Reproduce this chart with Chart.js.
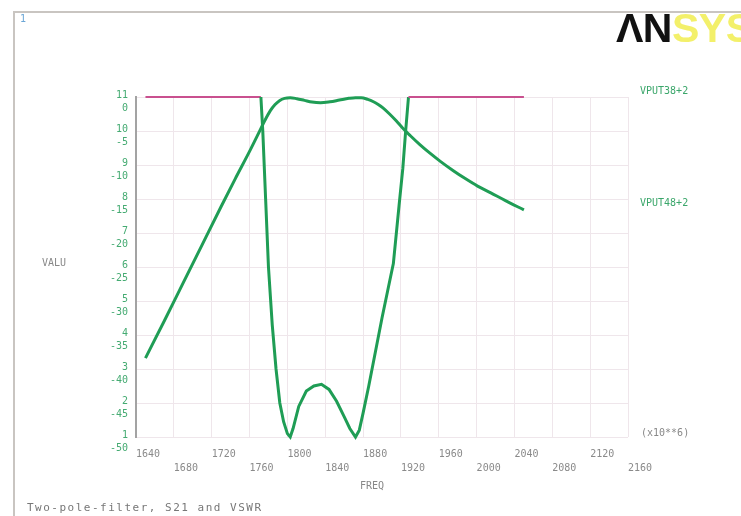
<!DOCTYPE html>
<html>
<head>
<meta charset="utf-8">
<script src="https://cdn.jsdelivr.net/npm/chart.js@4"></script>
<style>
  html, body { margin: 0; padding: 0; background: #ffffff; }
  #wrap { position: relative; width: 741px; height: 516px; overflow: hidden; background: #fff; }
  #c { position: absolute; left: 0; top: 0; }
  .t { position: absolute; font-family: "DejaVu Sans Mono", monospace; white-space: nowrap; }
  #frameTop { position: absolute; left: 13px; top: 11px; width: 728px; height: 2px; background: #c9c5c1; }
  #frameLeft { position: absolute; left: 13px; top: 11px; width: 2px; height: 505px; background: #c9c5c1; }
  #logo { position: absolute; left: 616px; top: 6px; font-family: "Liberation Sans", Arial, sans-serif; font-weight: bold; font-size: 41px; line-height: 44px; letter-spacing: -0.5px; }
</style>
</head>
<body>
<div id="wrap">
  <canvas id="c" width="741" height="516"></canvas>
  <div id="frameTop"></div>
  <div id="frameLeft"></div>
  <div class="t" style="left:20px; top:13px; font-size:10px; color:#6aa6d6;">1</div>
  <div id="logo"><span style="color:#111;">ΛN</span><span style="color:#f3f06a;">SYS</span></div>
  <div class="t" style="left:640px; top:85px; font-size:10px; color:#3aa66a;">VPUT38+2</div>
  <div class="t" style="left:640px; top:197px; font-size:10px; color:#3aa66a;">VPUT48+2</div>
  <div class="t" style="left:641px; top:427px; font-size:10px; color:#888;">(x10**6)</div>
  <div class="t" style="left:42px; top:257px; font-size:10px; color:#888;">VALU</div>
  <div class="t" style="left:360px; top:480px; font-size:10px; color:#888;">FREQ</div>
  <div class="t" style="left:27px; top:501px; font-size:11px; letter-spacing:1.5px; color:#777;">Two-pole-filter, S21 and VSWR</div>
</div>
<script>
// ---- data (frequency in MHz) ----
const vswrFreq = [1650, 1700, 1750, 1772, 1774, 1777, 1780, 1784, 1788, 1792, 1796, 1800, 1803,
                  1806, 1812, 1820, 1828, 1836, 1844, 1852, 1860, 1866, 1872,
                  1876, 1880, 1886, 1893, 1900, 1906, 1912, 1918, 1922, 1925, 1928, 1950, 2000, 2050];
const vswrValue = [11, 11, 11, 11, 10, 8, 6, 4.3, 3, 2, 1.45, 1.1, 1.0,
                   1.25, 1.9, 2.35, 2.5, 2.55, 2.4, 2.05, 1.6, 1.25, 1.0,
                   1.2, 1.7, 2.5, 3.5, 4.5, 5.3, 6.1, 7.8, 8.9, 10, 11, 11, 11, 11];

const s21Freq = [1650, 1670, 1690, 1710, 1730, 1745, 1760, 1770, 1776, 1782, 1787, 1792, 1797, 1803,
                 1810, 1818, 1826, 1835, 1845, 1855, 1865, 1872, 1878, 1885, 1891, 1896, 1901,
                 1908, 1915, 1922, 1930, 1940, 1951, 1962, 1975, 1988, 2001, 2015, 2030, 2050];
const s21Value = [-38.4, -32.9, -27.3, -21.7, -16.1, -12.0, -8.0, -5.2, -3.5, -2.0, -1.1, -0.5, -0.2, -0.1,
                  -0.25, -0.5, -0.75, -0.85, -0.7, -0.45, -0.2, -0.1, -0.1, -0.35, -0.7, -1.1, -1.6,
                  -2.5, -3.5, -4.6, -5.7, -7.0, -8.3, -9.5, -10.8, -12.0, -13.1, -14.1, -15.2, -16.6];

const xTicks = [1640, 1680, 1720, 1760, 1800, 1840, 1880, 1920, 1960, 2000, 2040, 2080, 2120, 2160];
const vswrTicks = [1, 2, 3, 4, 5, 6, 7, 8, 9, 10, 11];
const dbTicks = [-50, -45, -40, -35, -30, -25, -20, -15, -10, -5, 0];

const GREEN = '#1f9d55';
const MAGENTA = '#c9508f';

const vswrPts = vswrFreq.map((f, i) => ({ x: f, y: vswrValue[i] }));
const s21Pts = s21Freq.map((f, i) => ({ x: f, y: s21Value[i] }));

new Chart(document.getElementById('c'), {
  type: 'line',
  data: {
    datasets: [
      {
        label: 'VSWR',
        data: vswrPts,
        yAxisID: 'y',
        borderColor: GREEN,
        borderWidth: 3,
        pointRadius: 0,
        tension: 0,
        clip: false,
        segment: {
          borderColor: ctx => (ctx.p0.parsed.y >= 11 && ctx.p1.parsed.y >= 11) ? MAGENTA : GREEN,
          borderWidth: ctx => (ctx.p0.parsed.y >= 11 && ctx.p1.parsed.y >= 11) ? 2 : 3
        }
      },
      {
        label: 'S21',
        data: s21Pts,
        yAxisID: 'y2',
        borderColor: GREEN,
        borderWidth: 3,
        pointRadius: 0,
        cubicInterpolationMode: 'monotone',
        clip: false
      }
    ]
  },
  options: {
    responsive: false,
    animation: false,
    events: [],
    layout: { padding: { left: 0, top: 97, right: 113, bottom: 39 } },
    plugins: { legend: { display: false }, tooltip: { enabled: false } },
    scales: {
      x: {
        type: 'linear',
        min: xTicks[0],
        max: xTicks[xTicks.length - 1],
        afterBuildTicks: s => { s.ticks = xTicks.map(v => ({ value: v })); },
        afterFit: s => { s.height = 40; },
        border: { display: false },
        grid: { color: '#efe6eb', lineWidth: 1, drawTicks: false },
        ticks: {
          autoSkip: false,
          maxRotation: 0,
          minRotation: 0,
          align: 'start',
          padding: 10,
          color: '#8a8a8a',
          font: { family: 'DejaVu Sans Mono', size: 10, lineHeight: 1.4 },
          callback: (v) => {
            const i = xTicks.indexOf(v);
            return (i % 2 === 0) ? [String(v), ''] : ['', String(v)];
          }
        }
      },
      y: {
        type: 'linear',
        position: 'left',
        min: 1,
        max: 11,
        afterBuildTicks: s => { s.ticks = vswrTicks.map(v => ({ value: v })); },
        afterFit: s => { s.width = 136; },
        border: { display: true, color: '#a3a3a3', width: 2 },
        grid: { color: '#efe6eb', lineWidth: 1, drawTicks: false },
        ticks: {
          padding: 8,
          labelOffset: 5,
          color: '#45ab72',
          font: { family: 'DejaVu Sans Mono', size: 10, lineHeight: 1.3 },
          callback: (v) => {
            const i = vswrTicks.indexOf(v);
            return [String(v), String(dbTicks[i])];
          }
        }
      },
      y2: {
        type: 'linear',
        display: false,
        min: dbTicks[0],
        max: dbTicks[dbTicks.length - 1]
      }
    }
  }
});
</script>
</body>
</html>
